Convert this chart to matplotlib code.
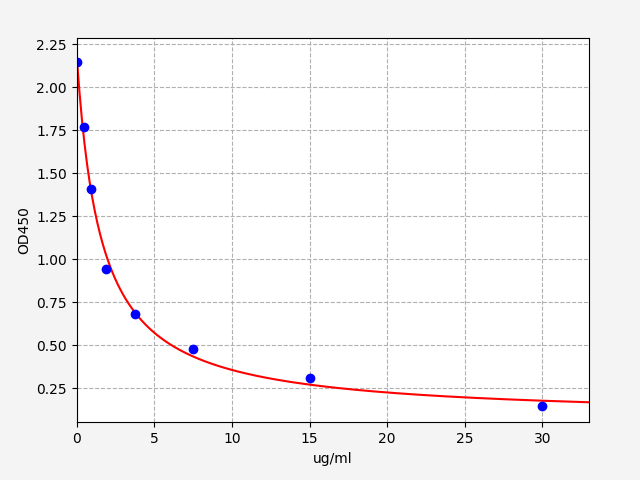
import numpy as np
import matplotlib
matplotlib.use("Agg")
import matplotlib.pyplot as plt

# standard curve readings
conc = [0, 0.47, 0.94, 1.875, 3.75, 7.5, 15, 30]
od450 = [2.15, 1.768, 1.407, 0.942, 0.681, 0.477, 0.313, 0.15]


def fourPL(x, p):
    a, b, c, d = p
    return d + (a - d) / (1 + (np.abs(x) / c) ** b)


def ajustar(x, y, p0, w, passos=400):
    # Levenberg-Marquardt simples com jacobiano numerico (pesos w)
    p = np.array(p0, dtype=float)
    lam = 1e-2
    for _ in range(passos):
        r = (y - fourPL(x, p)) * w
        J = np.zeros((len(x), len(p)))
        for i in range(len(p)):
            dp = np.zeros_like(p)
            dp[i] = 1e-6 * max(1.0, abs(p[i]))
            J[:, i] = (fourPL(x, p + dp) - fourPL(x, p)) / dp[i] * w
        A = J.T @ J
        g = J.T @ r
        novo = p + np.linalg.solve(A + lam * np.diag(np.diag(A)), g)
        if novo[2] > 0 and np.sum(((y - fourPL(x, novo)) * w) ** 2) < np.sum(r ** 2):
            p = novo
            lam *= 0.5
        else:
            lam *= 3
    return p


x = np.array(conc)
y = np.array(od450)
params = ajustar(x, y, [2.2, 1.0, 2.0, 0.0], y ** -0.35)

xs = np.linspace(0, 33, 400)

fig = plt.figure(figsize=(6.4, 4.8), dpi=100, facecolor="#f4f4f4")
ax = fig.add_subplot(111)
fig.subplots_adjust(left=0.12, right=0.92, top=0.92, bottom=0.12)

ax.plot(xs, fourPL(xs, params), color="red")
ax.plot(x, y, "o", color="blue")
ax.set_xlim(0, 33)
ax.set_ylim(0.052, 2.285)
ax.set_xlabel("ug/ml")
ax.set_ylabel("OD450")
ax.grid(True, linestyle="--")

fig.savefig("out.png", facecolor=fig.get_facecolor())
